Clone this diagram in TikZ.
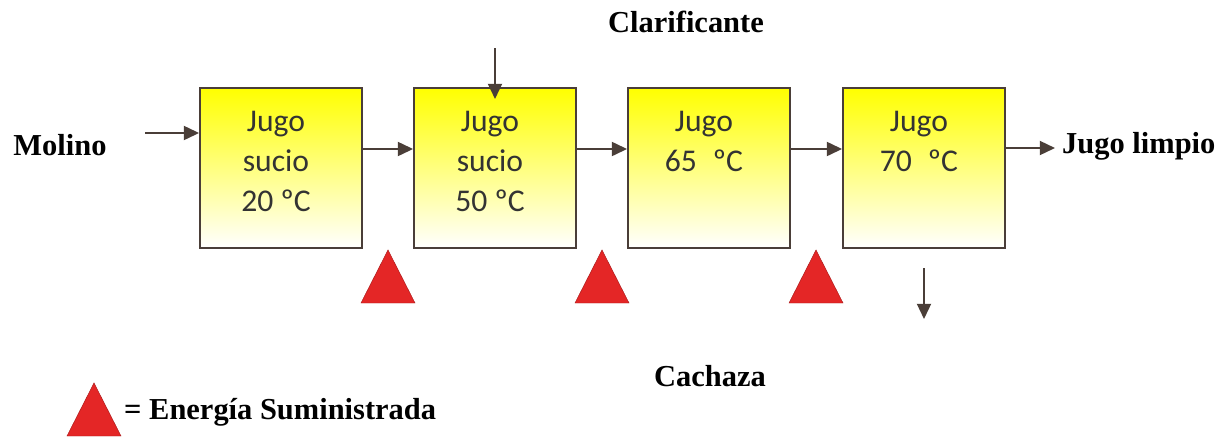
\documentclass[tikz,border=0pt]{standalone}
\usepackage{fontspec}
\setmainfont{Liberation Serif}
\newfontfamily\cajafont{Carlito}
\usetikzlibrary{arrows.meta}

\definecolor{cafe}{RGB}{74,62,56}
\definecolor{rojo}{RGB}{228,38,38}

\tikzset{
  caja/.style={draw=cafe, line width=1.6pt, minimum width=4.86cm, minimum height=4.8cm,
    top color=yellow, middle color=yellow!30, bottom color=white, inner sep=0pt},
  texto/.style={font=\cajafont\fontsize{27}{34}\selectfont, align=center, text=black!80, inner sep=0pt},
  etiqueta/.style={font=\bfseries\fontsize{26}{30}\selectfont, inner sep=0pt},
  flecha/.style={draw=cafe, line width=1.6pt, -{Triangle[length=13pt,width=12pt]}},
  energia/.pic={\draw[fill=rojo, draw=rojo!75!black, line width=0.4pt] (-27,26) -- (0,-27) -- (27,26) -- cycle;}
}

\begin{document}
\begin{tikzpicture}[x=0.03cm, y=-0.03cm]
    \useasboundingbox (0,0) rectangle (1228,437);

    % Boxes
    \node[caja] (b1) at (281,168) {};
    \node[caja] (b2) at (495,168) {};
    \node[caja] (b3) at (709,168) {};
    \node[caja] (b4) at (924,168) {};

    % Box texts
    \node[texto, anchor=north] (t1) at ([xshift=-.15cm, yshift=-.72cm]b1.north) {Jugo\\sucio\\20 ºC};
    \node[texto, anchor=north] (t2) at ([xshift=-.15cm, yshift=-.72cm]b2.north) {Jugo\\sucio\\50 ºC};
    \node[texto, anchor=north] (t3) at ([xshift=-.15cm, yshift=-.72cm]b3.north) {Jugo\\65\enspace ºC};
    \node[texto, anchor=north] (t4) at ([xshift=-.15cm, yshift=-.72cm]b4.north) {Jugo\\70\enspace ºC};

    % Labels
    \node[etiqueta] (molino) at (60,145) {Molino};
    \node[etiqueta] (clar) at (686,22) {Clarificante};
    \node[etiqueta, anchor=west] (limpio) at (1062,146) {Jugo limpio};
    \node[etiqueta] (cach) at (710,376) {Cachaza};
    \node[etiqueta, anchor=west] (leyenda) at (124,412) {= Energía Suministrada};

    % Flows
    \coordinate (entra) at (145,133);
    \draw[flecha] (entra) -- (b1.west |- entra);
    \draw[flecha] ([yshift=.57cm]b1.east) -- ([yshift=.57cm]b2.west);
    \draw[flecha] ([yshift=.57cm]b2.east) -- ([yshift=.57cm]b3.west);
    \draw[flecha] ([yshift=.57cm]b3.east) -- ([yshift=.57cm]b4.west);
    \coordinate (sale) at (1055,148);
    \draw[flecha] (b4.east |- sale) -- (sale);

    % Clarificante in, cachaza out
    \coordinate (clarin) at (495,48);
    \coordinate (clarfin) at (495,99);
    \draw[flecha] (clarin) -- (clarfin);
    \coordinate (cachin) at (924,268);
    \coordinate (cachfin) at (924,319);
    \draw[flecha] (cachin) -- (cachfin);

    % Energy supplied
    \pic at (388,277) {energia};
    \pic at (602,277) {energia};
    \pic at (816,277) {energia};
    \pic at (94,410) {energia};
\end{tikzpicture}
\end{document}
